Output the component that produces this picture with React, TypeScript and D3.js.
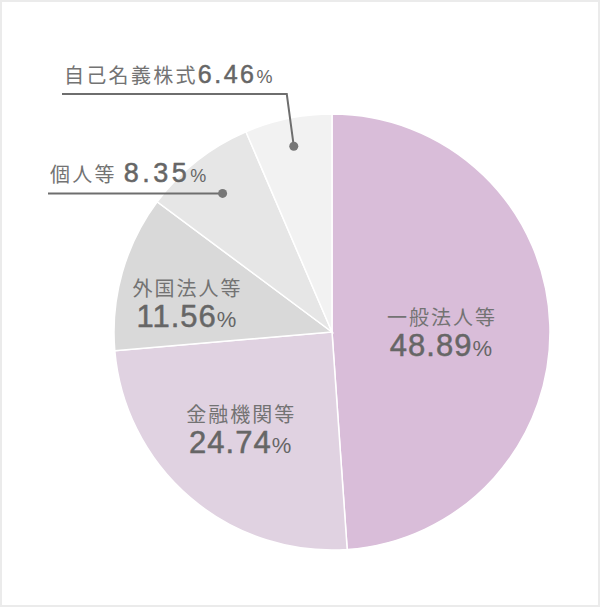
import React, { useRef, useEffect } from 'react';
import * as d3 from 'd3';

const categories: string[] = ['一般法人等', '金融機関等', '外国法人等', '個人等', '自己名義株式'];
const shares: number[] = [48.89, 24.74, 11.56, 8.35, 6.46];
const sliceColors: string[] = ['#d9bdd9', '#e0d2e1', '#d9d9d9', '#e6e6e6', '#f2f2f2'];

// where each label sits: inside at a fraction of the radius, or outside with a leader line
interface ILabelLayout {
    inside: boolean;
    rho: number;
    dx: number;
    dy: number;
    elbowDx?: number;
    elbowY?: number;
    lineEndX?: number;
    textY?: number;
    numSize?: number;
    numSpacing?: number;
}

const labelLayout: ILabelLayout[] = [
    { inside: true, rho: 0.5, dx: 0, dy: 4 },
    { inside: true, rho: 0.62, dx: -4, dy: -6 },
    { inside: true, rho: 0.68, dx: -3, dy: 12 },
    { inside: false, rho: 0.81, dx: 0, dy: 0, lineEndX: 48, textY: 182, numSize: 27, numSpacing: 3.5 },
    { inside: false, rho: 0.87, dx: 0, dy: 0, elbowDx: -7, elbowY: 94, lineEndX: 62, textY: 83, numSize: 25, numSpacing: 2.5 },
];

const W = 600;
const H = 607;
const cx = 332;
const cy = 332;
const radius = 218;

const nameFont = '"Noto Sans CJK JP", "Noto Sans", sans-serif';
const numFont = '"Liberation Sans", Arial, sans-serif';
const textGray = '#666';

function App() {
    const ref = useRef<SVGSVGElement>(null);

    useEffect(() => {
        if (!ref.current) return;
        const svg = d3.select(ref.current);
        svg.selectAll('*').remove();

        svg.append('rect')
            .attr('x', 1).attr('y', 1)
            .attr('width', W - 2).attr('height', H - 2)
            .attr('fill', '#fff')
            .attr('stroke', '#ebebeb')
            .attr('stroke-width', 2);

        const pie = d3.pie<number>().sort(null).value(d => d);
        const arcs = pie(shares);
        const arc = d3.arc<d3.PieArcDatum<number>>().innerRadius(0).outerRadius(radius);

        const g = svg.append('g').attr('transform', `translate(${cx},${cy})`);

        g.selectAll('path')
            .data(arcs)
            .join('path')
            .attr('d', arc)
            .attr('fill', (_d, i) => sliceColors[i])
            .attr('stroke', '#fff')
            .attr('stroke-width', 1.5);

        const fmt = d3.format('.2f');

        arcs.forEach((a, i) => {
            const lay = labelLayout[i];
            const mid = (a.startAngle + a.endAngle) / 2;
            const px = Math.sin(mid) * radius * lay.rho + lay.dx;
            const py = -Math.cos(mid) * radius * lay.rho + lay.dy;

            if (lay.inside) {
                g.append('text')
                    .attr('x', px + 1).attr('y', py - 7)
                    .attr('text-anchor', 'middle')
                    .attr('font-family', nameFont)
                    .attr('font-size', 20)
                    .style('letter-spacing', '2px')
                    .attr('fill', '#737373')
                    .text(categories[i]);

                const t = g.append('text')
                    .attr('x', px).attr('y', py + 24)
                    .attr('text-anchor', 'middle')
                    .attr('fill', textGray);
                t.append('tspan')
                    .attr('font-family', numFont)
                    .attr('font-size', 31)
                    .attr('stroke', textGray)
                    .attr('stroke-width', 0.5)
                    .style('letter-spacing', '1px')
                    .text(fmt(shares[i]));
                t.append('tspan')
                    .attr('font-family', numFont)
                    .attr('font-size', 22)
                    .text('%');
            } else {
                const pts: [number, number][] = [[px, py]];
                if (lay.elbowY !== undefined) {
                    pts.push([px + (lay.elbowDx || 0), lay.elbowY - cy]);
                    pts.push([(lay.lineEndX as number) - cx, lay.elbowY - cy]);
                } else {
                    pts.push([(lay.lineEndX as number) - cx, py]);
                }
                g.append('path')
                    .attr('d', d3.line()(pts))
                    .attr('fill', 'none')
                    .attr('stroke', '#6e6e6e')
                    .attr('stroke-width', 2);
                g.append('circle')
                    .attr('cx', px).attr('cy', py)
                    .attr('r', 4.5)
                    .attr('fill', '#777');

                const t = g.append('text')
                    .attr('x', (lay.lineEndX as number) - cx + 2)
                    .attr('y', (lay.textY as number) - cy)
                    .attr('fill', textGray);
                t.append('tspan')
                    .attr('font-family', nameFont)
                    .attr('font-size', 20)
                    .style('letter-spacing', '2.3px')
                    .attr('fill', '#737373')
                    .text(categories[i] + (i === 3 ? ' ' : ''));
                t.append('tspan')
                    .attr('font-family', numFont)
                    .attr('font-size', lay.numSize as number)
                    .attr('stroke', textGray)
                    .attr('stroke-width', 0.5)
                    .style('letter-spacing', `${lay.numSpacing}px`)
                    .text(fmt(shares[i]));
                t.append('tspan')
                    .attr('font-family', numFont)
                    .attr('font-size', 18)
                    .text('%');
            }
        });
    }, []);

    return (
        <svg
            ref={ref}
            width={W}
            height={H}
            style={{ position: 'absolute', left: 0, top: 0 }}
        />
    );
}

export default App;
